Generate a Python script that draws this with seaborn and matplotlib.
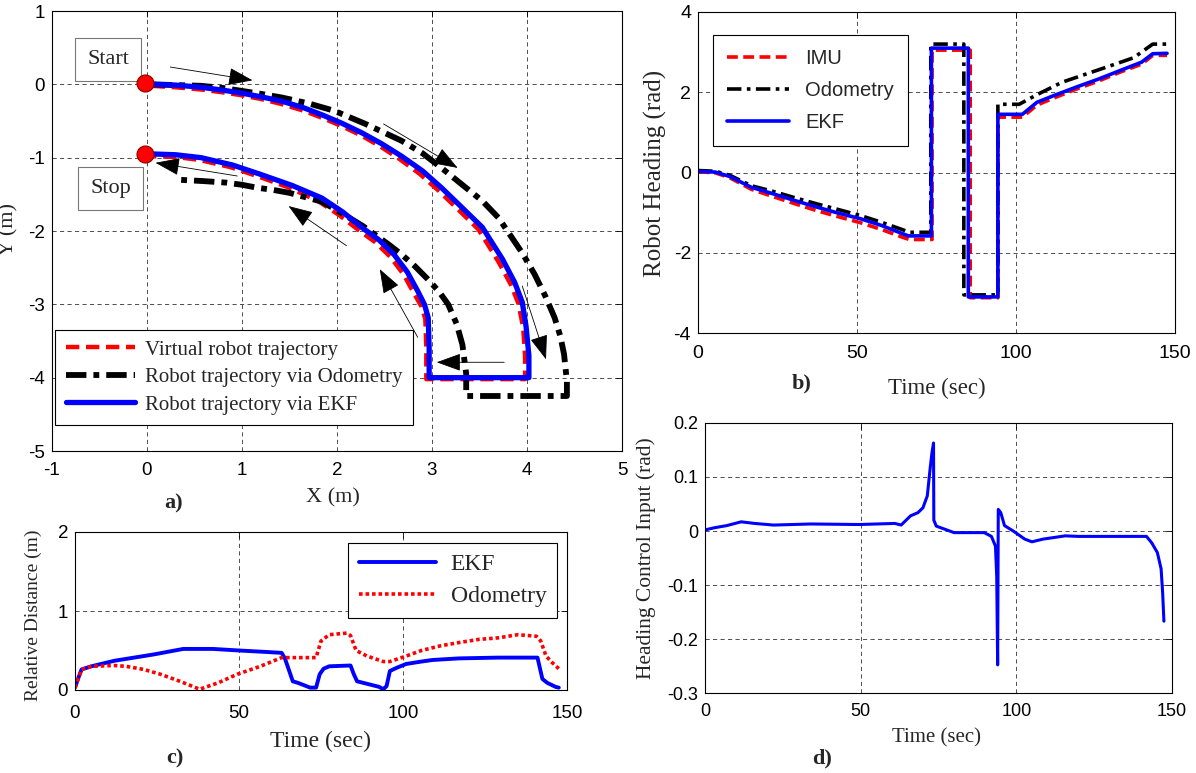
import matplotlib
matplotlib.use('Agg')
import matplotlib.pyplot as plt
import seaborn as sns

# ---------------- data ----------------
# panel a) trajectories (X, Y in m)
virt_x = [0.05, 0.3, 0.57, 0.8, 1.0, 1.2, 1.42, 1.65, 1.85, 2.05, 2.26, 2.46, 2.66, 2.87, 3.07, 3.27, 3.49, 3.7, 3.83, 3.91, 3.96, 3.98, 3.98,
          2.94, 2.94, 2.93, 2.89, 2.81, 2.7, 2.56, 2.4, 2.22, 2.02, 1.8, 1.5, 1.18, 0.88, 0.55, 0.3, 0.07]
virt_y = [-0.02, -0.04, -0.07, -0.11, -0.15, -0.2, -0.27, -0.36, -0.46, -0.57, -0.7, -0.85, -1.02, -1.22, -1.45, -1.7, -1.98, -2.42, -2.73, -2.99, -3.32, -3.7, -4.02,
          -4.02, -3.6, -3.2, -3.03, -2.85, -2.59, -2.35, -2.15, -1.98, -1.78, -1.59, -1.41, -1.26, -1.13, -1.03, -0.99, -0.98]
odo_x = [0.05, 0.3, 0.57, 0.8, 1.0, 1.2, 1.42, 1.7, 1.97, 2.3, 2.68, 2.9, 3.1, 3.3, 3.53, 3.7, 3.82, 3.95, 4.08, 4.19, 4.29, 4.35, 4.39, 4.42, 4.42,
         3.36, 3.36, 3.32, 3.26, 3.17, 3.07, 2.95, 2.82, 2.68, 2.54, 2.4, 2.27, 2.13, 1.99, 1.84, 1.67, 1.5, 1.33, 1.16, 1.0, 0.83, 0.6, 0.32]
odo_y = [0.0, -0.01, -0.02, -0.05, -0.09, -0.13, -0.18, -0.26, -0.36, -0.54, -0.77, -0.94, -1.14, -1.35, -1.59, -1.82, -2.05, -2.3, -2.59, -2.88, -3.18, -3.43, -3.68, -4.05, -4.25,
         -4.25, -3.95, -3.55, -3.27, -3.0, -2.82, -2.65, -2.48, -2.32, -2.18, -2.05, -1.93, -1.82, -1.71, -1.6, -1.54, -1.48, -1.44, -1.41, -1.37, -1.34, -1.32, -1.3]
ekf_x = [0.05, 0.3, 0.57, 0.8, 1.0, 1.2, 1.42, 1.65, 1.85, 2.05, 2.26, 2.47, 2.68, 2.9, 3.1, 3.3, 3.53, 3.74, 3.87, 3.95, 3.99, 4.02, 4.02,
         2.97, 2.97, 2.96, 2.92, 2.85, 2.74, 2.6, 2.44, 2.26, 2.06, 1.84, 1.53, 1.2, 0.9, 0.57, 0.3, 0.07]
ekf_y = [0.0, -0.01, -0.04, -0.08, -0.12, -0.17, -0.23, -0.32, -0.42, -0.53, -0.66, -0.81, -0.98, -1.18, -1.41, -1.66, -1.95, -2.38, -2.7, -2.97, -3.3, -3.7, -4.0,
         -4.0, -3.6, -3.18, -3.0, -2.82, -2.56, -2.32, -2.12, -1.95, -1.74, -1.55, -1.38, -1.23, -1.1, -1.0, -0.96, -0.95]
marker_x = [-0.025, -0.02]
marker_y = [0.02, -0.955]
box_labels = ['Start', 'Stop']
legend_a = ['Virtual robot trajectory', 'Robot trajectory via Odometry', 'Robot trajectory via EKF']

# panel b) robot heading (rad) vs time (sec)
imu_t = [0, 5.5, 10, 16.8, 23.6, 30.5, 37.3, 44, 51, 57.7, 64.5, 66.5, 73.6, 73.6, 85.6, 85.6, 94.3, 94.3, 102, 106.6, 112, 119, 126, 132.7, 139.5, 143, 147.5]
imu_h = [0.02, -0.01, -0.13, -0.42, -0.6, -0.78, -0.95, -1.1, -1.25, -1.42, -1.62, -1.67, -1.67, 3.05, 3.05, -3.12, -3.12, 1.38, 1.38, 1.68, 1.86, 2.08, 2.28, 2.5, 2.7, 2.92, 2.92]
odob_t = [0, 5.5, 10, 16.8, 23.6, 30.5, 37.3, 44, 51, 57.7, 64.5, 66.5, 73.2, 73.2, 83.6, 83.6, 94.3, 94.3, 101, 106.6, 114.5, 126, 137, 143, 147.5]
odob_h = [0.05, 0.03, -0.07, -0.33, -0.47, -0.63, -0.78, -0.92, -1.07, -1.24, -1.43, -1.49, -1.49, 3.2, 3.2, -3.05, -3.05, 1.7, 1.7, 1.94, 2.25, 2.56, 2.86, 3.2, 3.2]
ekfb_t = [0, 5.5, 10, 16.8, 23.6, 30.5, 37.3, 44, 51, 57.7, 64.5, 66.2, 73.4, 73.4, 85.0, 85.0, 94.3, 94.3, 102, 106.6, 112, 119, 126, 132.7, 139.5, 143, 147.5]
ekfb_h = [0.03, 0.01, -0.1, -0.37, -0.53, -0.7, -0.86, -1.01, -1.15, -1.32, -1.53, -1.58, -1.58, 3.1, 3.1, -3.1, -3.1, 1.45, 1.45, 1.75, 1.92, 2.13, 2.33, 2.54, 2.75, 2.96, 2.97]
legend_b = ['IMU', 'Odometry', 'EKF']

# panel c) relative distance (m) vs time (sec)
ekfc_t = [0, 1, 2, 5, 12, 24, 33, 42, 50, 59, 63, 64, 66.4, 68, 71.7, 73.5, 74.6, 75.8, 77.5, 84, 85, 86, 92.7, 94, 95, 96, 98, 101, 105.6, 109, 117, 129, 141, 142.5, 144, 146.5, 147.5]
ekfc_d = [0.03, 0.15, 0.26, 0.3, 0.37, 0.45, 0.52, 0.52, 0.5, 0.48, 0.47, 0.4, 0.11, 0.09, 0.03, 0.03, 0.2, 0.27, 0.3, 0.31, 0.2, 0.11, 0.04, 0.01, 0.05, 0.24, 0.28, 0.33, 0.36, 0.38, 0.4, 0.41, 0.41, 0.14, 0.09, 0.04, 0.03]
odoc_t = [0, 2, 5, 12, 15.5, 21, 26, 32, 38, 43.6, 49.5, 56.5, 63, 73.5, 75, 77.5, 82.8, 84, 85.7, 89, 94, 96, 101, 105.6, 111.5, 117, 123, 129, 135, 140.7, 142, 143.6, 145.4, 147.5]
odoc_d = [0.03, 0.26, 0.3, 0.31, 0.3, 0.26, 0.2, 0.11, 0.01, 0.09, 0.2, 0.3, 0.41, 0.41, 0.62, 0.7, 0.72, 0.69, 0.5, 0.43, 0.36, 0.36, 0.43, 0.5, 0.56, 0.6, 0.64, 0.66, 0.7, 0.68, 0.62, 0.43, 0.35, 0.27]
legend_c = ['EKF', 'Odometry']

# panel d) heading control input (rad) vs time (sec)
ctrl_t = [0, 3, 7, 11.6, 16, 22, 34, 49.5, 61, 63, 66, 68.4, 70, 71.4, 72.3, 72.9, 73.4, 73.5, 74.3, 76.7, 80, 89.7, 92, 93.3, 93.7, 94.0, 94.2, 95, 96.2, 99, 102.7, 105, 108.6, 115.7, 120, 141.8, 143.5, 145.3, 146.5, 147, 147.4]
ctrl_u = [0.002, 0.006, 0.01, 0.017, 0.014, 0.011, 0.013, 0.012, 0.014, 0.011, 0.028, 0.034, 0.043, 0.065, 0.115, 0.145, 0.163, 0.02, 0.009, 0.004, -0.003, -0.003, -0.01, -0.028, -0.084, -0.248, 0.04, 0.034, 0.01, 0.0, -0.015, -0.02, -0.015, -0.009, -0.01, -0.01, -0.022, -0.04, -0.07, -0.115, -0.167]

# ---------------- style ----------------
sns.set_style('white')
plt.rcParams['font.family'] = ['Liberation Sans', 'DejaVu Sans']
plt.rcParams['axes.unicode_minus'] = False
SERIF = ['Liberation Serif', 'DejaVu Serif']
RED, BLUE, BLACK = '#ff0000', '#0000ff', '#000000'

W, H = 1196, 773
fig = plt.figure(figsize=(W / 100, H / 100), dpi=100)


def add_ax(l, t, r, b):
    return fig.add_axes([l / W, 1 - b / H, (r - l) / W, (b - t) / H])


def style(ax, fs, xpad):
    for s in ax.spines.values():
        s.set_visible(True)
        s.set_color('black')
        s.set_linewidth(0.8)
    ax.tick_params(direction='in', length=4, width=0.6, top=True, right=True,
                   labelsize=fs, colors='black')
    ax.tick_params(axis='x', pad=xpad)
    ax.tick_params(axis='y', pad=5)
    ax.grid(True, color='#333333', linestyle=(0, (5, 4)), linewidth=0.6)
    ax.set_axisbelow(True)


def to_ax(ax, px, py):
    return ax.transAxes.inverted().transform((px, H - py))


def set_labels(ax, xl, xpos, xfs, yl, ypos, yfs):
    ax.set_xlabel(xl, fontfamily=SERIF, fontsize=xfs)
    ax.xaxis.set_label_coords(*to_ax(ax, *xpos))
    ax.xaxis.label.set_va('center')
    ax.set_ylabel(yl, fontfamily=SERIF, fontsize=yfs)
    ax.yaxis.set_label_coords(*to_ax(ax, *ypos))
    ax.yaxis.label.set_va('center')


axA = add_ax(52, 11, 622, 451)
axB = add_ax(698, 12, 1175, 333)
axC = add_ax(75, 532, 567, 690)
axD = add_ax(705, 423, 1172, 693)

# ---------------- panel a ----------------
sns.lineplot(x=virt_x, y=virt_y, ax=axA, sort=False, estimator=None, color=RED,
             linewidth=3.2, linestyle=(0, (3, 1.5)), label=legend_a[0])
sns.lineplot(x=odo_x, y=odo_y, ax=axA, sort=False, estimator=None, color=BLACK,
             linewidth=4.2, linestyle=(0, (3.5, 1.2, 1, 1.2)), label=legend_a[1])
sns.lineplot(x=ekf_x, y=ekf_y, ax=axA, sort=False, estimator=None, color=BLUE,
             linewidth=3.8, label=legend_a[2])
sns.scatterplot(x=marker_x, y=marker_y, ax=axA, s=150, color=RED,
                edgecolor='#880000', linewidth=0.8, zorder=5, legend=False)
axA.set_xlim(-1, 5)
axA.set_ylim(-5, 1)
axA.set_xticks(range(-1, 6))
axA.set_yticks(range(-5, 2))
style(axA, 13.5, 8)

for lab, (bx, by) in zip(box_labels, [(-0.41, 0.34), (-0.38, -1.42)]):
    axA.text(bx, by, lab, fontfamily=SERIF, fontsize=16, ha='center', va='center',
             bbox=dict(boxstyle='square,pad=0.55', facecolor='white', edgecolor='#777777', linewidth=0.8))

arrows = [((0.245, 0.236), (1.11, 0.055)), ((2.49, -0.54), (3.27, -1.14)),
          ((3.95, -2.75), (4.2, -3.75)), ((3.76, -3.79), (3.05, -3.79)),
          ((2.85, -3.45), (2.45, -2.52)), ((2.1, -2.2), (1.49, -1.66)),
          ((0.95, -1.25), (0.09, -1.07))]
for (tx, ty), (hx, hy) in arrows:
    axA.annotate('', xy=(hx, hy), xytext=(tx, ty),
                 arrowprops=dict(arrowstyle='-|>,head_length=1.1,head_width=0.4', lw=0.6,
                                 color='black', mutation_scale=14, shrinkA=0, shrinkB=0))

legA = axA.legend(loc='lower left', bbox_to_anchor=(0.006, 0.059), prop={'family': SERIF, 'size': 15},
                  frameon=True, fancybox=False, edgecolor='black', framealpha=1,
                  handlelength=3.3, borderpad=0.5, labelspacing=0.38, borderaxespad=0, handletextpad=0.5)
legA.get_frame().set_linewidth(0.8)
set_labels(axA, 'X (m)', (333, 498), 16, 'Y (m)', (9, 230), 16)

# ---------------- panel b ----------------
sns.lineplot(x=imu_t, y=imu_h, ax=axB, sort=False, estimator=None, color=RED,
             linewidth=2.6, linestyle=(0, (3, 1.5)), label=legend_b[0])
sns.lineplot(x=odob_t, y=odob_h, ax=axB, sort=False, estimator=None, color=BLACK,
             linewidth=2.6, linestyle=(0, (4, 1.5, 1, 1.5)), label=legend_b[1])
sns.lineplot(x=ekfb_t, y=ekfb_h, ax=axB, sort=False, estimator=None, color=BLUE,
             linewidth=2.6, label=legend_b[2])
axB.set_xlim(0, 150)
axB.set_ylim(-4, 4)
axB.set_xticks([0, 50, 100, 150])
axB.set_yticks([-4, -2, 0, 2, 4])
style(axB, 14, 9)
legB = axB.legend(loc='upper left', bbox_to_anchor=(0.031, 0.928), prop={'size': 14.5},
                  frameon=True, fancybox=False, edgecolor='black', framealpha=1,
                  handlelength=3.1, borderpad=0.7, labelspacing=0.65, borderaxespad=0, handletextpad=0.8)
legB.get_frame().set_linewidth(0.8)
set_labels(axB, 'Time (sec)', (937, 388), 16.5, 'Robot Heading (rad)', (655, 173), 18)

# ---------------- panel c ----------------
sns.lineplot(x=ekfc_t, y=ekfc_d, ax=axC, sort=False, estimator=None, color=BLUE,
             linewidth=2.8, label=legend_c[0])
sns.lineplot(x=odoc_t, y=odoc_d, ax=axC, sort=False, estimator=None, color=RED,
             linewidth=2.6, linestyle=(0, (1, 0.8)), label=legend_c[1])
axC.set_xlim(0, 150)
axC.set_ylim(0, 2)
axC.set_xticks([0, 50, 100, 150])
axC.set_yticks([0, 1, 2])
style(axC, 13.5, 11)
legC = axC.legend(loc='upper right', bbox_to_anchor=(0.98, 0.93), prop={'family': SERIF, 'size': 17},
                  frameon=True, fancybox=False, edgecolor='black', framealpha=1,
                  handlelength=3.3, borderpad=0.45, labelspacing=0.45, borderaxespad=0, handletextpad=0.6)
legC.get_frame().set_linewidth(0.8)
set_labels(axC, 'Time (sec)', (320, 741), 17, 'Relative Distance (m)', (33, 615), 14)

# ---------------- panel d ----------------
sns.lineplot(x=ctrl_t, y=ctrl_u, ax=axD, sort=False, estimator=None, color=BLUE,
             linewidth=2.2, legend=False)
axD.set_xlim(0, 150)
axD.set_ylim(-0.3, 0.2)
axD.set_xticks([0, 50, 100, 150])
axD.set_yticks([-0.3, -0.2, -0.1, 0, 0.1, 0.2])
axD.set_yticklabels(['-0.3', '-0.2', '-0.1', '0', '0.1', '0.2'])
style(axD, 13, 7)
set_labels(axD, 'Time (sec)', (937, 738), 15, 'Heading Control Input (rad)', (646, 558), 15.5)

# panel letters
for lab, (px, py) in zip(['a)', 'b)', 'c)', 'd)'], [(174, 503), (802, 383), (175, 758), (822, 758)]):
    fig.text(px / W, 1 - py / H, lab, ha='center', va='center', fontfamily=SERIF,
             fontweight='bold', fontsize=16)

fig.savefig('out.png', dpi=100)
